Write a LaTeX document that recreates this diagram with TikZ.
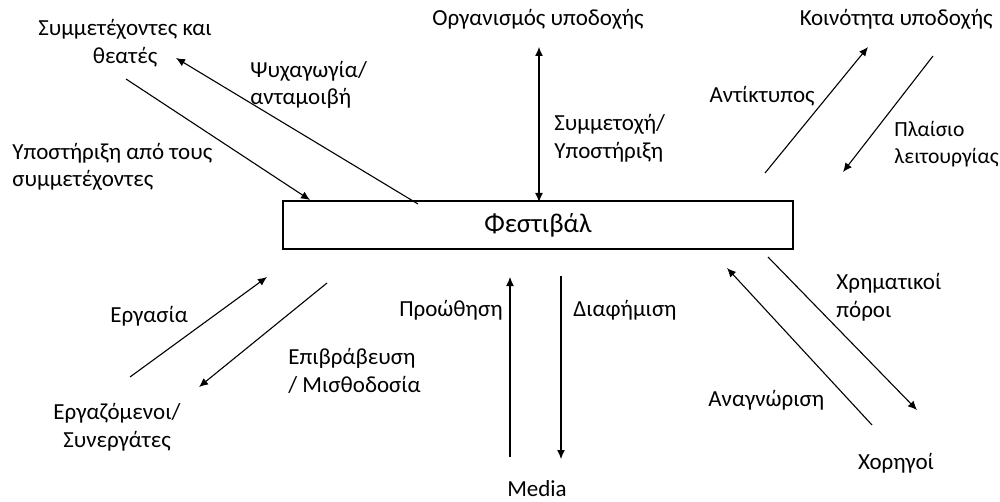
\documentclass[tikz,border=0pt]{standalone}
\usepackage{fontspec}
\setmainfont{Carlito}
\usetikzlibrary{arrows.meta}
\begin{document}
\begin{tikzpicture}[x=0.5pt,y=-0.5pt,
  lbl/.style={inner sep=0pt,font=\fontsize{11.5pt}{13.8pt}\selectfont},
  conn/.style={line width=0.55pt,-{Latex[length=4.5pt,width=4pt]}},
  both/.style={line width=0.55pt,{Latex[length=4.5pt,width=4pt]}-{Latex[length=4.5pt,width=4pt]}}]
\useasboundingbox (0,0) rectangle (1000,502);
% central box
\node[draw,line width=0.55pt,minimum width=255pt,minimum height=24pt,inner sep=0pt,
  font=\fontsize{13.5pt}{15pt}\selectfont] (fest) at (538,225) {Φεστιβάλ};
% actors
\node[lbl,align=center] (symm) at (125,43) {Συμμετέχοντες και\\θεατές};
\node[lbl] (org) at (538,19) {Οργανισμός υποδοχής};
\node[lbl,anchor=east] (koin) at (993,19) {Κοινότητα υποδοχής};
\node[lbl,align=center] (erg) at (117,427) {Εργαζόμενοι/\\Συνεργάτες};
\node[lbl] (media) at (537,489) {Media};
\node[lbl] (xor) at (896,463) {Χορηγοί};
% edge labels
\node[lbl,align=left,anchor=west] (psy) at (250,85) {Ψυχαγωγία/\\ανταμοιβή};
\node[lbl,align=left,anchor=west] (ypo) at (12,167) {Υποστήριξη από τους\\συμμετέχοντες};
\node[lbl,align=left,anchor=west] (symt) at (554,138) {Συμμετοχή/\\Υποστήριξη};
\node[lbl,anchor=east] (ant) at (815,96) {Αντίκτυπος};
\node[lbl,align=left,anchor=west,font=\fontsize{10.8pt}{13.8pt}\selectfont] (pla) at (894,144) {Πλαίσιο\\λειτουργίας};
\node[lbl,anchor=west] (ergas) at (110,316) {Εργασία};
\node[lbl,align=left,anchor=west] (epi) at (288,371) {Επιβράβευση\\/ Μισθοδοσία};
\node[lbl,anchor=east] (proo) at (503,310) {Προώθηση};
\node[lbl,anchor=west] (diaf) at (573,310) {Διαφήμιση};
\node[lbl,align=left,anchor=west] (xrim) at (836,297) {Χρηματικοί\\πόροι};
\node[lbl,anchor=west] (anag) at (708,400) {Αναγνώριση};
% connector end points
\coordinate (a1s) at (126,79);  \coordinate (a1e) at (310,200);
\coordinate (a2s) at (418,204); \coordinate (a2e) at (176,58);
\coordinate (a3s) at (539,202); \coordinate (a3e) at (539,47);
\coordinate (a4s) at (765,173); \coordinate (a4e) at (868,47);
\coordinate (a5s) at (933,56);  \coordinate (a5e) at (843,172);
\coordinate (a6s) at (130,377); \coordinate (a6e) at (267,277);
\coordinate (a7s) at (327,283); \coordinate (a7e) at (199,387);
\coordinate (a8s) at (510,457); \coordinate (a8e) at (510,277);
\coordinate (a9s) at (561,276); \coordinate (a9e) at (561,459);
\coordinate (a10s) at (872,425); \coordinate (a10e) at (727,268);
\coordinate (a11s) at (768,257); \coordinate (a11e) at (917,410);
% connectors
\draw[conn] (a1s) -- (a1e);
\draw[conn] (a2s) -- (a2e);
\draw[both] (a3s) -- (a3e);
\draw[conn] (a4s) -- (a4e);
\draw[conn] (a5s) -- (a5e);
\draw[conn] (a6s) -- (a6e);
\draw[conn] (a7s) -- (a7e);
\draw[conn] (a8s) -- (a8e);
\draw[conn] (a9s) -- (a9e);
\draw[conn] (a10s) -- (a10e);
\draw[conn] (a11s) -- (a11e);
\end{tikzpicture}
\end{document}
